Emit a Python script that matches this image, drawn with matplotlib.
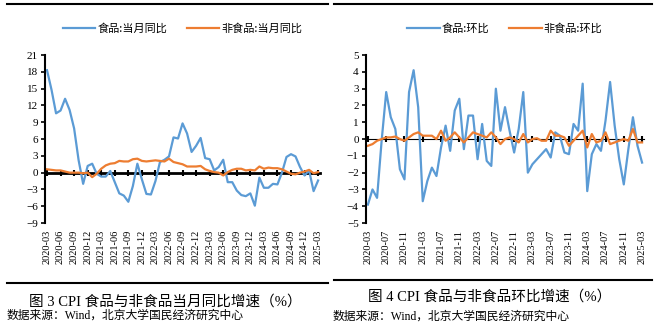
import numpy as np
import pandas as pd
import matplotlib
matplotlib.use("Agg")
import matplotlib.pyplot as plt
from matplotlib.lines import Line2D

plt.rcParams['font.family'] = ['Liberation Serif', 'Noto Sans CJK SC']

# monthly x axis, 2020-03 .. 2025-03
months = pd.period_range('2020-03', '2025-03', freq='M').strftime('%Y-%m').tolist()

# Fig 3: year-on-year (%)
food_yoy = [18.3, 14.8, 10.6, 11.1, 13.2, 11.2, 7.9, 2.2, -2.0, 1.2,
            1.6, -0.2, -0.7, -0.7, 0.3, -1.7, -3.7, -4.1, -5.2, -2.4, 1.6, -1.2,
            -3.8, -3.9, -1.5, 1.9, 2.3, 2.9, 6.3, 6.1, 8.8, 7.0, 3.7, 4.8,
            6.2, 2.6, 2.4, 0.4, 1.0, 2.3, -1.7, -1.7, -3.2, -4.0, -4.2, -3.7,
            -5.9, -0.9, -2.7, -2.7, -2.0, -2.1, 0.0, 2.8, 3.3, 2.9, 1.0, -0.5,
            0.4, -3.3, -1.4]
nonfood_yoy = [0.6, 0.5, 0.4, 0.4, 0.2, 0.0, 0.0, 0.0, -0.1, 0.0,
               -0.8, -0.2, 0.7, 1.3, 1.6, 1.7, 2.1, 2.0, 2.0, 2.4, 2.5, 2.1,
               2.0, 2.1, 2.2, 2.1, 2.0, 2.5, 1.9, 1.7, 1.5, 1.1, 1.1, 1.1,
               1.2, 0.6, 0.3, 0.1, 0.0, -0.5, 0.1, 0.5, 0.7, 0.7, 0.4, 0.5,
               0.4, 1.1, 0.7, 0.9, 0.8, 0.8, 0.6, 0.2, -0.2, -0.3, 0.0, 0.2,
               0.5, -0.1, 0.1]

# Fig 4: month-on-month (%)
food_mom = [-3.9, -3.0, -3.5, -0.1, 2.8, 1.3, 0.6, -1.8, -2.4, 2.8,
            4.1, 1.9, -3.7, -2.5, -1.7, -2.2, -0.5, 0.8, -0.7, 1.7, 2.4, -0.6,
            1.4, 1.4, -1.2, 0.9, -1.3, -1.6, 3.0, 0.5, 1.9, 0.5, -0.8, 0.6,
            2.8, -2.0, -1.5, -1.2, -0.9, -0.6, -1.1, 0.4, 0.2, -0.8, -0.9, 0.9,
            0.5, 3.3, -3.1, -0.9, -0.3, -0.7, 1.1, 3.4, 0.8, -1.2, -2.7, -0.6,
            1.3, -0.4, -1.4]
nonfood_mom = [-0.4, -0.3, -0.1, 0.0, 0.1, 0.1, 0.15, 0.0, -0.1, 0.1,
               0.3, 0.4, 0.2, 0.2, 0.2, 0.0, 0.5, -0.1, 0.1, 0.4, 0.1, -0.2,
               0.1, 0.4, 0.3, 0.2, 0.1, 0.4, 0.1, -0.3, 0.0, 0.1, 0.0, -0.2,
               0.3, -0.2, 0.0, 0.05, -0.1, -0.1, 0.5, 0.2, 0.2, 0.1, -0.4, -0.1,
               0.2, 0.5, -0.5, 0.3, -0.2, -0.1, 0.4, -0.3, -0.2, -0.1, 0.0, -0.1,
               0.6, -0.2, -0.2]

BLUE = '#5B9BD5'
ORANGE = '#ED7D31'
serif = ['Liberation Serif', 'Noto Sans CJK SC']
sans = ['Noto Sans CJK SC', 'DejaVu Sans']


def draw_panel(ax, s1, s2, names, ylim, ystep, tick_every):
    x = np.arange(len(months))
    ax.plot(x, s1, color=BLUE, lw=1.6, label=names[0])
    ax.plot(x, s2, color=ORANGE, lw=1.6, label=names[1])
    ax.set_xlim(-0.5, len(months) - 0.5)
    ax.set_ylim(*ylim)
    ax.set_yticks(np.arange(ylim[0], ylim[1] + 0.01, ystep))
    ticks = x[::tick_every]
    ax.set_xticks(ticks)
    ax.set_xticklabels([months[i] for i in ticks], rotation=90, fontsize=7.5)
    ax.tick_params(axis='x', length=0, pad=5)
    ax.tick_params(axis='y', direction='out', length=3, width=1.2, labelsize=8, pad=2)
    for side in ['top', 'right', 'bottom']:
        ax.spines[side].set_visible(False)
    ax.spines['left'].set_linewidth(1.5)
    # zero axis with ticks
    zero = (0 - ylim[0]) / (ylim[1] - ylim[0])
    sec = ax.secondary_xaxis(zero)
    sec.set_xticks(ticks)
    sec.set_xticklabels([])
    sec.tick_params(direction='inout', length=5, width=1.5)
    sec.spines['bottom'].set_linewidth(2)
    ax.legend(loc='center', bbox_to_anchor=(0.5, 1.16), ncol=2, frameon=False,
              prop={'family': sans, 'size': 8}, handlelength=2.9,
              handletextpad=0.2, columnspacing=1.8)


fig = plt.figure(figsize=(6.6, 3.28), dpi=100)
ax1 = fig.add_axes([0.0678, 0.320, 0.4176, 0.512])
ax2 = fig.add_axes([0.554, 0.320, 0.4223, 0.512])

draw_panel(ax1, food_yoy, nonfood_yoy, ['食品:当月同比', '非食品:当月同比'], (-9, 21), 3, 3)
draw_panel(ax2, food_mom, nonfood_mom, ['食品:环比', '非食品:环比'], (-5, 5), 1, 4)

# frame lines
H = 328.0
W = 660.0
for x0, x1, y in [(7, 328, 4), (334, 652, 4), (7, 328, 283), (334, 652, 280)]:
    fig.add_artist(Line2D([x0 / W, x1 / W], [1 - y / H, 1 - y / H], color='black', lw=1.5))

fig.text(165 / W, 1 - 302 / H, '图 3 CPI 食品与非食品当月同比增速（%）', ha='center', va='center',
         fontsize=10.5, family=serif)
fig.text(490 / W, 1 - 297 / H, '图 4 CPI 食品与非食品环比增速（%）', ha='center', va='center',
         fontsize=10.5, family=serif)
fig.text(7 / W, 1 - 316 / H, '数据来源：Wind，北京大学国民经济研究中心', ha='left', va='center',
         fontsize=8.5, family=serif)
fig.text(333 / W, 1 - 317 / H, '数据来源：Wind，北京大学国民经济研究中心', ha='left', va='center',
         fontsize=8.5, family=serif)

fig.savefig('out.png', dpi=100)
